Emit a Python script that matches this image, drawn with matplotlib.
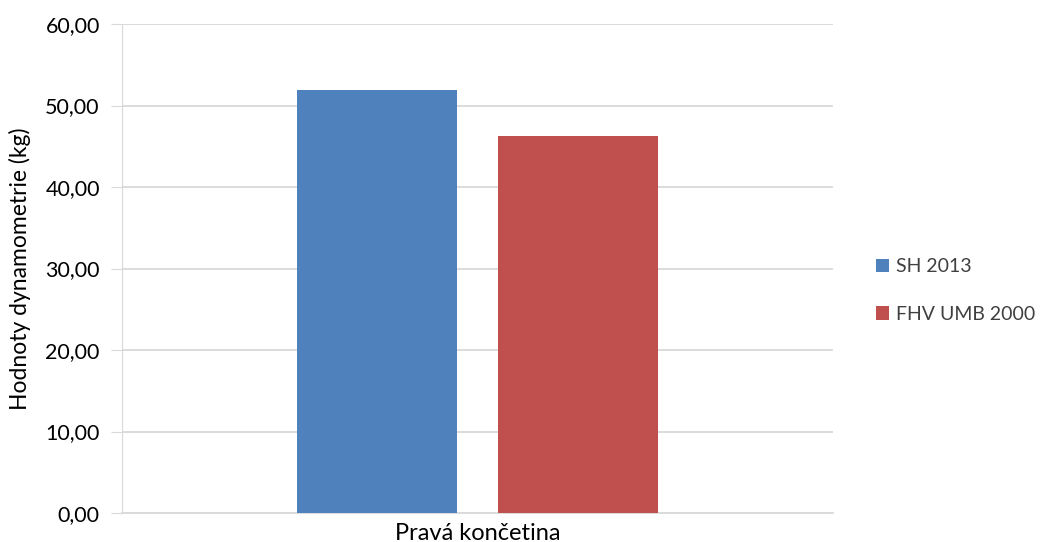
import matplotlib.pyplot as plt
from matplotlib.ticker import FuncFormatter

plt.rcParams['font.family'] = ['Lato', 'DejaVu Sans']

categories = ["Pravá končetina"]
series = ["SH 2013", "FHV UMB 2000"]
values = [[51.9], [46.25]]
colors = ["#4f81bd", "#c0504d"]

fig = plt.figure(figsize=(10.45, 5.42), dpi=100)
ax = fig.add_axes([122 / 1045, 29 / 542, 711 / 1045, 489 / 542])

width = 0.225
offsets = [-0.142, 0.142]
for name, vals, off, col in zip(series, values, offsets, colors):
    ax.bar([i + off for i in range(len(categories))], vals, width=width,
           color=col, label=name, zorder=3)

ax.set_xlim(-0.5, 0.5)
ax.set_ylim(0, 60)
ax.set_yticks(range(0, 61, 10))
ax.yaxis.set_major_formatter(FuncFormatter(lambda v, p: f"{v:.2f}".replace(".", ",")))
ax.set_xticks(range(len(categories)))
ax.set_xticklabels(categories, fontsize=17, color="#000000")
ax.tick_params(axis="x", length=0, pad=7)
ax.tick_params(axis="y", length=8, color="#d9d9d9", labelsize=15.5, pad=8)

ax.grid(axis="y", color="#d9d9d9", linewidth=1.3, zorder=0)
for side in ["top", "right"]:
    ax.spines[side].set_visible(False)
ax.spines["left"].set_color("#d9d9d9")
ax.spines["bottom"].set_color("#d9d9d9")
ax.spines["bottom"].set_linewidth(1.3)

ax.set_ylabel("Hodnoty dynamometrie (kg)", fontsize=16.5, labelpad=10)

leg = ax.legend(loc="center left", bbox_to_anchor=(1.06, 0.455), frameon=False,
                fontsize=14, handlelength=0.7, handleheight=0.7,
                handletextpad=0.35, labelspacing=1.55,
                borderpad=0, borderaxespad=0)
for t in leg.get_texts():
    t.set_color("#404040")

fig.savefig("out.png", dpi=100)
